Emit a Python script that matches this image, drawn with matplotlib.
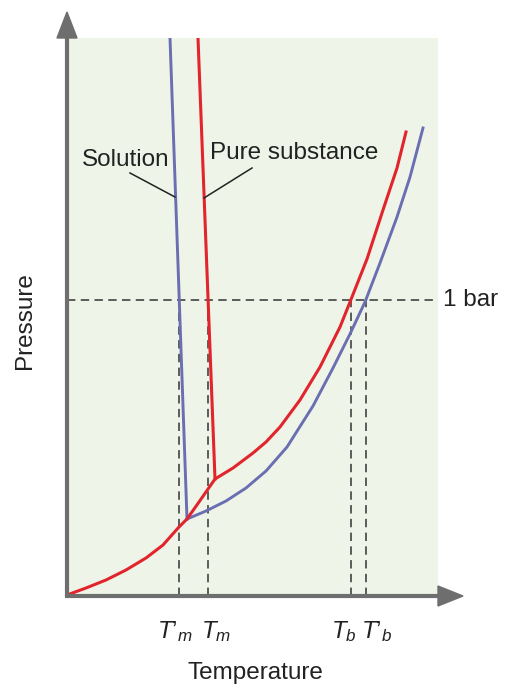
import numpy as np
import matplotlib
matplotlib.use("Agg")
import matplotlib.pyplot as plt
from matplotlib.patches import Polygon

plt.rcParams['font.family'] = ['Liberation Sans', 'DejaVu Sans']
plt.rcParams['mathtext.fontset'] = 'custom'
plt.rcParams['mathtext.rm'] = 'Liberation Sans'
plt.rcParams['mathtext.it'] = 'Liberation Sans:italic'

# pure substance: solid-vapour curve up to the triple point, then liquid-vapour
pure_vap_T = [0, 19, 39, 59, 79, 96, 112, 120, 132, 148, 166, 186, 199, 213,
              233, 253, 273, 283, 300, 316, 330, 339]
pure_vap_P = [1, 8, 16, 26, 38, 51, 69, 77, 94, 117, 128, 143, 154, 169,
              196, 229, 269, 294, 337, 386, 428, 464]
# solution: liquid-vapour curve starting at its own triple point
sol_vap_T = [120, 139, 159, 179, 199, 220, 246, 266, 283, 298, 313, 330, 343, 356]
sol_vap_P = [77, 85, 95, 108, 125, 149, 190, 228, 262, 294, 333, 379, 419, 468]
# solid-liquid (melting) lines
pure_melt_T = [131, 148]
pure_melt_P = [558, 117]
sol_melt_T = [103, 120]
sol_melt_P = [558, 77]

p_1bar = 296
tick_names = ["$T\u2019_m$", "$T_m$", "$T_b$", "$T\u2019_b$"]
tick_label_T = [108, 149, 277, 310]

red = '#e2242c'
blue = '#6b6fb2'
grey = '#6e6e6e'
ink = '#222222'

# temperatures where each line meets 1 bar
Tm_sol = np.interp(p_1bar, sol_melt_P[::-1], sol_melt_T[::-1])
Tm_pure = np.interp(p_1bar, pure_melt_P[::-1], pure_melt_T[::-1])
Tb_pure = np.interp(p_1bar, pure_vap_P, pure_vap_T)
Tb_sol = np.interp(p_1bar, sol_vap_P, sol_vap_T)

fig = plt.figure(figsize=(5.11, 6.86), dpi=100)
ax = fig.add_axes([67/511, 90/686, 371/511, 558/686])
ax.set_facecolor('#eef5e8')
ax.set_xlim(0, 371)
ax.set_ylim(0, 558)
for s in ax.spines.values():
    s.set_visible(False)
ax.set_xticks([])
ax.set_yticks([])

dash = (0, (5.5, 3.5))
ax.plot([0, 371], [p_1bar, p_1bar], color='#333333', lw=1.1, ls=dash)
for t in [Tm_sol, Tm_pure, Tb_pure, Tb_sol]:
    ax.plot([t, t], [0, p_1bar], color='#333333', lw=1.1, ls=dash)

ax.plot(sol_vap_T, sol_vap_P, color=blue, lw=2.1, solid_joinstyle='round')
ax.plot(sol_melt_T, sol_melt_P, color=blue, lw=2.1)
ax.plot(pure_vap_T, pure_vap_P, color=red, lw=2.2, solid_joinstyle='round')
ax.plot(pure_melt_T, pure_melt_P, color=red, lw=2.2)

# axes with arrow heads
ax.plot([0, 0], [0, 560], color=grey, lw=3, clip_on=False, solid_capstyle='butt')
ax.plot([-2, 373], [0, 0], color=grey, lw=3, clip_on=False, solid_capstyle='butt')
ax.add_patch(Polygon([[-10, 558], [10, 558], [0, 584]], closed=True,
                     color=grey, clip_on=False))
ax.add_patch(Polygon([[371, -10], [371, 10], [396, 0]], closed=True,
                     color=grey, clip_on=False))

fs = 17.5
ax.text(59, 436, 'Solution', fontsize=fs, ha='center', va='center', color=ink)
ax.text(227, 443, 'Pure substance', fontsize=fs, ha='center', va='center', color=ink)
ax.plot([63, 108], [423, 399], color=ink, lw=1.1)
ax.plot([185, 137], [428, 398], color=ink, lw=1.1)

ax.text(376, p_1bar, '1 bar', fontsize=fs, ha='left', va='center', color=ink)

for name, t in zip(tick_names, tick_label_T):
    ax.text(t, -36, name, fontsize=fs, ha='center', va='center', color=ink,
            clip_on=False)

ax.text(188, -77, 'Temperature', fontsize=fs, ha='center', va='center', color=ink)
ax.text(-42, 275, 'Pressure', fontsize=fs, ha='center', va='center', rotation=90,
        color=ink)

fig.savefig('out.png', dpi=100)
